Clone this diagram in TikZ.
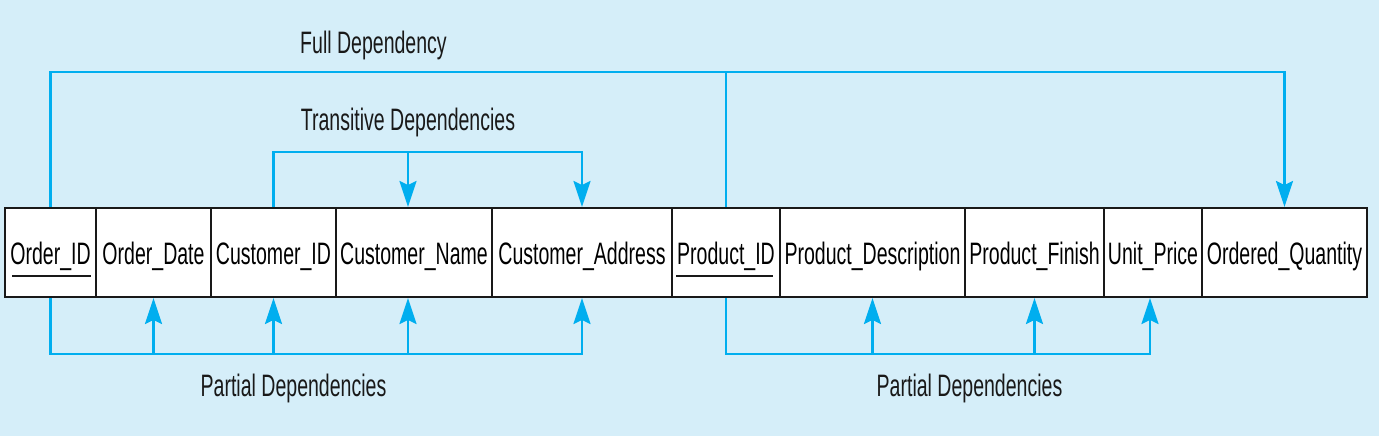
\documentclass[tikz,border=0pt]{standalone}
\usepackage{fontspec}
\newfontfamily\condfont[FakeStretch=0.63]{Liberation Sans}
\usetikzlibrary{arrows.meta}
\definecolor{bgblue}{HTML}{D5EEF9}
\definecolor{depblue}{HTML}{00AEEF}
\tikzset{
  cell/.style={draw=black!90, line width=2pt, fill=white, minimum height=89pt, inner sep=0pt,
    text height=23pt, text depth=0pt, font=\condfont\fontsize{31}{34}\selectfont},
  dep/.style={draw=depblue, line width=2.2pt},
  tip/.style={-{Stealth[length=26pt,width=17pt,inset=4pt]}},
  lbl/.style={anchor=base, inner sep=0pt, font=\condfont\fontsize{31}{34}\selectfont, text=black!90},
  ul/.style={draw=black!90, line width=2.8pt}
}
\begin{document}
\begin{tikzpicture}[x=1pt,y=-1pt]
\fill[bgblue] (0,0) rectangle (1379,436);
\useasboundingbox (0,0) rectangle (1379,436);
% table cells
\node[cell, minimum width=91pt]  (c1)  at (50.5,252.5)  {Order\_ID};
\node[cell, minimum width=115pt] (c2)  at (153.5,252.5) {Order\_Date};
\node[cell, minimum width=125pt] (c3)  at (273.5,252.5) {Customer\_ID};
\node[cell, minimum width=156pt] (c4)  at (414,252.5)   {Customer\_Name};
\node[cell, minimum width=180pt] (c5)  at (582,252.5)   {Customer\_Address};
\node[cell, minimum width=108pt] (c6)  at (726,252.5)   {Product\_ID};
\node[cell, minimum width=185pt] (c7)  at (872.5,252.5) {Product\_Description};
\node[cell, minimum width=139pt] (c8)  at (1034.5,252.5){Product\_Finish};
\node[cell, minimum width=98pt]  (c9)  at (1153,252.5)  {Unit\_Price};
\node[cell, minimum width=165pt] (c10) at (1284.5,252.5){Ordered\_Quantity};
% key underlines
\draw[ul] ([xshift=8pt,yshift=-23.5pt]c1.west) -- ([xshift=-6pt,yshift=-23.5pt]c1.east);
\draw[ul] ([xshift=5pt,yshift=-23.5pt]c6.west) -- ([xshift=-8pt,yshift=-23.5pt]c6.east);
% full dependency
\draw[dep,tip] (c1.north) |- (c6.north |- 0,72) -| (c10.north);
\draw[dep] (c6.north) -- (c6.north |- 0,72);
\node[lbl] (lfull) at (373.5,54) {Full Dependency};
% transitive dependencies
\draw[dep,tip] (c3.north) |- ([xshift=-6pt]c4.north |- 0,152) -| (c5.north);
\draw[dep,tip] ([xshift=-6pt]c4.north |- 0,152) -- ([xshift=-6pt]c4.north);
\node[lbl] (ltrans) at (408,130) {Transitive Dependencies};
% partial dependencies (left)
\draw[dep,tip] (c1.south) |- (c5.south |- 0,354) -- (c5.south);
\draw[dep,tip] (c2.south |- 0,354) -- (c2.south);
\draw[dep,tip] (c3.south |- 0,354) -- (c3.south);
\draw[dep,tip] ([xshift=-6pt]c4.south |- 0,354) -- ([xshift=-6pt]c4.south);
\node[lbl] (lpart1) at (293.5,396) {Partial Dependencies};
% partial dependencies (right)
\draw[dep,tip] (c6.south) |- ([xshift=-3pt]c9.south |- 0,354) -- ([xshift=-3pt]c9.south);
\draw[dep,tip] (c7.south |- 0,354) -- (c7.south);
\draw[dep,tip] (c8.south |- 0,354) -- (c8.south);
\node[lbl] (lpart2) at (969.5,396) {Partial Dependencies};
\end{tikzpicture}
\end{document}
